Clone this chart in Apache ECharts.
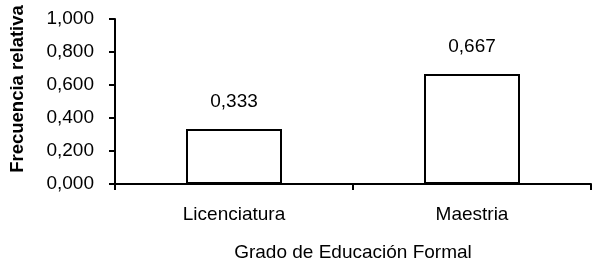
<!DOCTYPE html>
<html>
<head>
<meta charset="utf-8">
<script src="https://cdn.jsdelivr.net/npm/echarts@6/dist/echarts.min.js"></script>
<style>
  html, body { margin: 0; padding: 0; background: #fff; }
  #chart { width: 600px; height: 269px; }
</style>
</head>
<body>
<div id="chart"></div>
<script>
// datos del grafico
var categorias = ['Licenciatura', 'Maestria'];
var frecuencias = [0.333, 0.667];
var tituloY = 'Frecuencia relativa';
var tituloX = 'Grado de Educación Formal';

var FONT = '"Liberation Sans", Arial, sans-serif';
var SIZE = 19;

// formato con coma decimal
function coma(v) {
	return Number(v).toFixed(3).replace('.', ',');
}

var chart = echarts.init(document.getElementById('chart'));
chart.setOption({
	animation: false,
	backgroundColor: '#fff',
	grid: { left: 115, right: 9, top: 19, bottom: 85 },
	graphic: [{
		type: 'text',
		x: 18,
		y: 89,
		rotation: Math.PI / 2,
		style: {
			text: tituloY,
			font: 'bold 18.5px ' + FONT,
			fill: '#000',
			align: 'center',
			verticalAlign: 'middle'
		}
	}],
	xAxis: {
		type: 'category',
		data: categorias,
		boundaryGap: true,
		name: tituloX,
		nameLocation: 'middle',
		nameGap: 59,
		nameTextStyle: { fontFamily: FONT, fontSize: SIZE, color: '#000' },
		axisLine: { lineStyle: { color: '#000', width: 2 } },
		axisTick: { show: true, length: 6, lineStyle: { color: '#000', width: 2 } },
		axisLabel: { margin: 21, fontFamily: FONT, fontSize: SIZE, color: '#000' }
	},
	yAxis: {
		type: 'value',
		min: 0,
		max: 1,
		interval: 0.2,
		splitLine: { show: false },
		axisLine: { show: true, lineStyle: { color: '#000', width: 2 } },
		axisTick: { show: true, length: 6, lineStyle: { color: '#000', width: 2 } },
		axisLabel: {
			margin: 21,
			fontFamily: FONT,
			fontSize: SIZE,
			color: '#000',
			formatter: coma
		}
	},
	series: [{
		type: 'bar',
		data: frecuencias,
		barWidth: 96,
		itemStyle: { color: '#fff', borderColor: '#000', borderWidth: 2 },
		label: {
			show: true,
			position: 'top',
			distance: 18,
			fontFamily: FONT,
			fontSize: SIZE,
			color: '#000',
			formatter: function(p) { return coma(p.value); }
		}
	}]
});
</script>
</body>
</html>
